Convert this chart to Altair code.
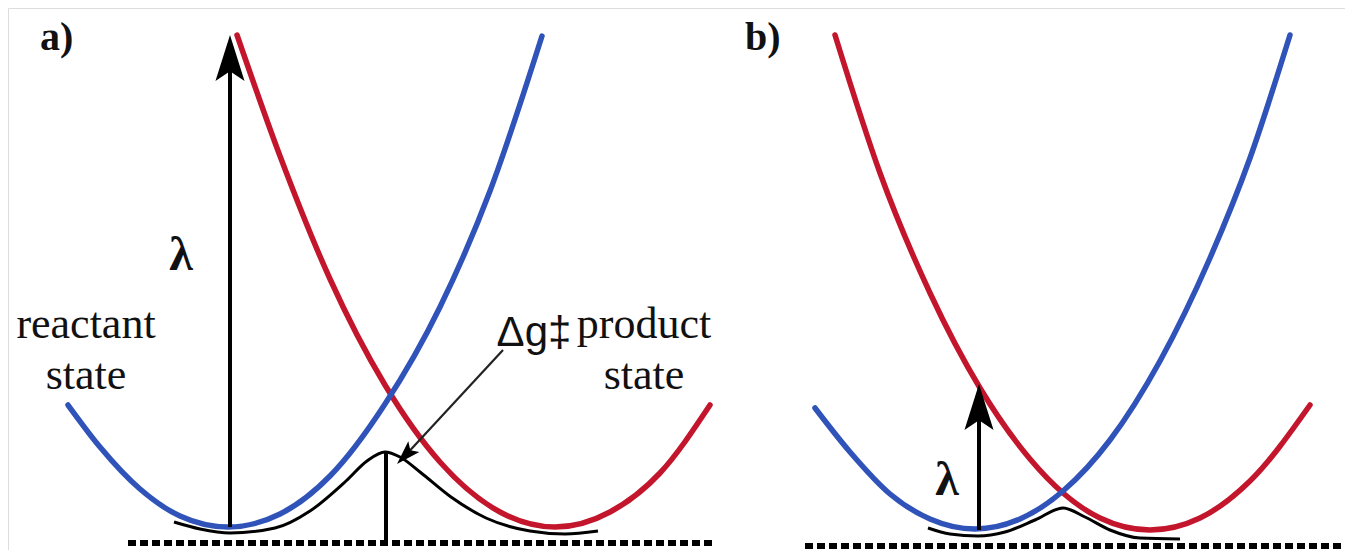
import altair as alt
import pandas as pd

# ---------------- data (image coordinates) ----------------
# panel a
blue_a_x = [68, 100, 140, 180, 228, 280, 330, 385, 440, 490, 542]
blue_a_y = [405, 447, 489, 516, 527, 514, 476, 404, 307, 191, 36]
red_a_x = [237, 280, 330, 385, 440, 500, 555, 610, 660, 710]
red_a_y = [35, 156, 279, 385, 462, 512, 527, 512, 473, 405]
black_a_x = [174, 200, 230, 275, 310, 346, 367, 385, 400, 420, 451, 486, 530, 565, 598]
black_a_y = [522, 529, 533, 528, 511, 481, 461, 452, 457, 472, 497, 518, 531, 534, 531]
# panel b
blue_b_x = [815, 850, 890, 930, 975, 1020, 1063, 1110, 1160, 1210, 1250, 1290]
blue_b_y = [408, 452, 494, 519, 529, 519, 491, 440, 361, 258, 158, 35]
red_b_x = [835, 880, 930, 980, 1030, 1063, 1100, 1150, 1200, 1250, 1310]
red_b_y = [35, 173, 293, 388, 459, 493, 518, 530, 518, 481, 405]
black_b_x = [928, 950, 978, 1005, 1035, 1063, 1085, 1110, 1140, 1180]
black_b_y = [528, 534, 536, 532, 520, 508, 517, 530, 538, 539]

# baselines (dashed)
base_x1 = [128, 805]
base_x2 = [712, 1345]
base_y = [543, 546]

# vertical arrows (lambda): x, from, tip
lam_x = [230, 979]
lam_from = [527, 530]
lam_tip = [35, 384]

# delta g marker
dg_line_x = [386]
dg_line_top = [453]
dg_line_bot = [546]
dg_arrow_start = [(503, 350)]
dg_arrow_tip = [(397, 464)]

# labels
serif_text = ["reactant", "state", "product", "state"]
serif_x = [86, 86, 644, 644]
serif_y = [338, 389, 338, 389]
panel_text = ["a)", "b)"]
panel_x = [40, 745]
panel_y = [50, 50]
lam_text = ["λ", "λ"]
lam_lx = [181, 947]
lam_ly = [270, 495]
dg_text = ["Δg‡"]
dg_tx = [534]
dg_ty = [346]

# ---------------- tables ----------------
def curve_rows(name, xs, ys):
    return [dict(curve=name, i=i, x=x, y=y) for i, (x, y) in enumerate(zip(xs, ys))]

colored = pd.DataFrame(
    curve_rows("red_a", red_a_x, red_a_y)
    + curve_rows("red_b", red_b_x, red_b_y)
    + curve_rows("blue_a", blue_a_x, blue_a_y)
    + curve_rows("blue_b", blue_b_x, blue_b_y)
)
black = pd.DataFrame(
    curve_rows("black_a", black_a_x, black_a_y) + curve_rows("black_b", black_b_x, black_b_y)
)
bases = pd.DataFrame(dict(x=base_x1, x2=base_x2, y=base_y))
shafts = pd.DataFrame(dict(x=lam_x, y=lam_from, y2=[t + 20 for t in lam_tip]))
heads = pd.DataFrame(dict(x=lam_x, y=lam_tip))
dgl = pd.DataFrame(dict(x=dg_line_x, y=dg_line_top, y2=dg_line_bot))
dga = pd.DataFrame(dict(x=[s[0] for s in dg_arrow_start], y=[s[1] for s in dg_arrow_start],
                        x2=[t[0] + 6 for t in dg_arrow_tip], y2=[t[1] - 6 for t in dg_arrow_tip]))
dgh = pd.DataFrame(dict(x=[t[0] for t in dg_arrow_tip], y=[t[1] for t in dg_arrow_tip]))
serif_df = pd.DataFrame(dict(t=serif_text, x=serif_x, y=serif_y))
panel_df = pd.DataFrame(dict(t=panel_text, x=panel_x, y=panel_y))
lam_df = pd.DataFrame(dict(t=lam_text, x=lam_lx, y=lam_ly))
dg_df = pd.DataFrame(dict(t=dg_text, x=dg_tx, y=dg_ty))

X = alt.X("x:Q", scale=alt.Scale(domain=[8, 1345]), axis=None)
Y = alt.Y("y:Q", scale=alt.Scale(domain=[8, 550], reverse=True), axis=None)

ARROW = "M0,0 L0.6,1.9 L0,1.5 L-0.6,1.9 Z"

layers = [
    alt.Chart(bases).mark_rule(color="black", strokeWidth=6, strokeDash=[8, 4]).encode(
        x=X, x2="x2:Q", y=Y),
    alt.Chart(black).mark_line(color="black", strokeWidth=3, interpolate="monotone").encode(
        x=X, y=Y, detail="curve:N", order="i:Q"),
    alt.Chart(colored).mark_line(strokeWidth=5.5, interpolate="monotone", strokeCap="round").encode(
        x=X, y=Y,
        color=alt.Color("curve:N", legend=None,
                        scale=alt.Scale(domain=["red_a", "red_b", "blue_a", "blue_b"],
                                        range=["#c3152b", "#c3152b", "#2f53b8", "#2f53b8"])),
        order="i:Q"),
    alt.Chart(shafts).mark_rule(color="black", strokeWidth=4).encode(x=X, y=Y, y2="y2:Q"),
    alt.Chart(heads).mark_point(shape=ARROW, filled=True, color="black", opacity=1,
                                size=2350, strokeWidth=0).encode(x=X, y=Y),
    alt.Chart(dgl).mark_rule(color="black", strokeWidth=4).encode(x=X, y=Y, y2="y2:Q"),
    alt.Chart(dga).mark_rule(color="#222222", strokeWidth=2.2).encode(x=X, y=Y, x2="x2:Q", y2="y2:Q"),
    alt.Chart(dgh).mark_point(shape=ARROW, filled=True, color="black", opacity=1,
                              size=650, angle=224, strokeWidth=0).encode(x=X, y=Y),
    alt.Chart(serif_df).mark_text(font="Liberation Serif", fontSize=44, align="center",
                                  baseline="alphabetic", color="#111111").encode(x=X, y=Y, text="t:N"),
    alt.Chart(panel_df).mark_text(font="Liberation Serif", fontSize=40, fontWeight="bold",
                                  align="left", baseline="alphabetic", color="#111111").encode(x=X, y=Y, text="t:N"),
    alt.Chart(lam_df).mark_text(font="Liberation Serif", fontSize=48, fontWeight="bold", align="center",
                                baseline="alphabetic", color="#111111").encode(x=X, y=Y, text="t:N"),
    alt.Chart(dg_df).mark_text(font="Liberation Sans", fontSize=42, align="center",
                               baseline="alphabetic", color="#111111").encode(x=X, y=Y, text="t:N"),
]

chart = alt.layer(*layers).properties(
    width=1337, height=542, padding=0,
    autosize=alt.AutoSizeParams(type="none"),
).configure_view(stroke=None).configure(background="white")

chart.save("out.html", embed_options={"renderer": "svg", "actions": False})
